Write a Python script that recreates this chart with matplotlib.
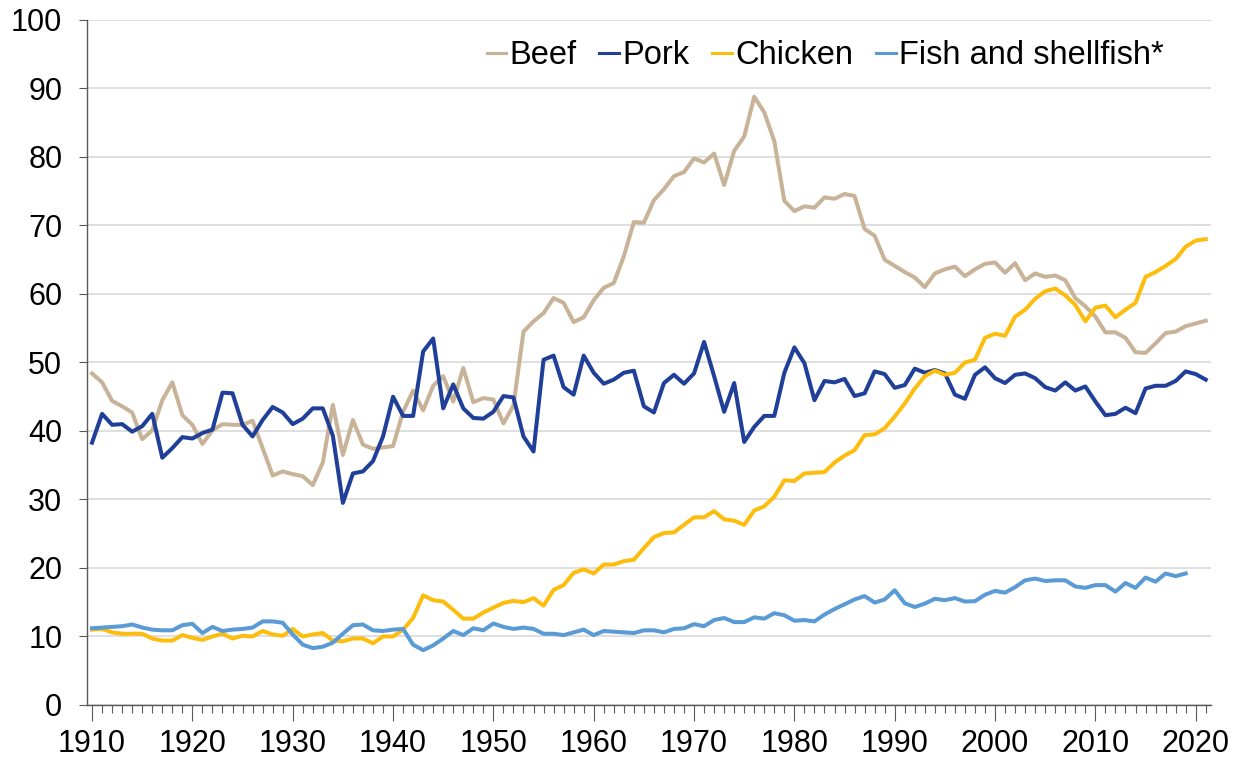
import numpy as np
import matplotlib
matplotlib.use("Agg")
import matplotlib.pyplot as plt
from matplotlib.ticker import MultipleLocator

plt.rcParams['font.family'] = ['Liberation Sans', 'DejaVu Sans']

# Per capita availability, pounds, 1910-2021
years = np.arange(1910, 2022)

beef = [48.4, 47.1, 44.4, 43.6, 42.7, 38.8, 40.1, 44.5, 47.1, 42.3,
        40.9, 38.1, 40.1, 41.0, 40.9, 40.9, 41.5, 37.5, 33.5, 34.1,
        33.7, 33.4, 32.1, 35.4, 43.8, 36.5, 41.6, 38.0, 37.4, 37.6,
        37.8, 42.8, 45.9, 43.0, 46.6, 48.0, 44.3, 49.2, 44.2, 44.8,
        44.6, 41.1, 43.7, 54.5, 56.0, 57.2, 59.4, 58.7, 55.9, 56.6,
        59.1, 60.9, 61.6, 65.5, 70.5, 70.4, 73.7, 75.3, 77.2, 77.8,
        79.8, 79.2, 80.5, 75.9, 80.9, 83.0, 88.8, 86.5, 82.3, 73.6,
        72.1, 72.8, 72.6, 74.1, 73.9, 74.6, 74.3, 69.5, 68.5, 65.0,
        64.1, 63.2, 62.4, 61.0, 63.0, 63.6, 64.0, 62.6, 63.6, 64.4,
        64.6, 63.1, 64.5, 62.0, 63.0, 62.5, 62.7, 62.0, 59.4, 58.2,
        56.7, 54.4, 54.4, 53.6, 51.5, 51.4, 52.8, 54.3, 54.5, 55.3,
        55.7, 56.1]

pork = [38.3, 42.5, 40.9, 41.0, 39.9, 40.7, 42.5, 36.1, 37.5, 39.1,
        38.9, 39.7, 40.2, 45.6, 45.5, 40.9, 39.2, 41.6, 43.5, 42.7,
        41.0, 41.8, 43.3, 43.3, 39.3, 29.5, 33.8, 34.1, 35.6, 39.2,
        45.0, 42.2, 42.2, 51.6, 53.5, 43.3, 46.8, 43.3, 41.9, 41.8,
        42.8, 45.1, 44.9, 39.2, 37.0, 50.4, 51.0, 46.4, 45.3, 51.0,
        48.5, 46.9, 47.5, 48.5, 48.8, 43.6, 42.7, 47.0, 48.2, 46.9,
        48.4, 53.0, 48.0, 42.8, 47.0, 38.4, 40.6, 42.2, 42.2, 48.5,
        52.2, 49.9, 44.5, 47.3, 47.1, 47.6, 45.1, 45.5, 48.7, 48.3,
        46.3, 46.7, 49.1, 48.5, 48.9, 48.4, 45.3, 44.7, 48.2, 49.3,
        47.7, 47.0, 48.2, 48.4, 47.7, 46.4, 45.9, 47.1, 45.9, 46.5,
        44.3, 42.3, 42.5, 43.4, 42.6, 46.2, 46.6, 46.6, 47.3, 48.7,
        48.3, 47.5]

chicken = [11.0, 11.1, 10.6, 10.4, 10.4, 10.4, 9.7, 9.4, 9.4, 10.2,
           9.8, 9.5, 10.0, 10.4, 9.7, 10.1, 10.0, 10.8, 10.3, 10.1,
           11.1, 10.0, 10.3, 10.5, 9.4, 9.3, 9.7, 9.7, 9.0, 10.0,
           10.0, 11.0, 12.7, 16.0, 15.3, 15.1, 13.9, 12.6, 12.6, 13.5,
           14.2, 14.9, 15.2, 15.0, 15.6, 14.5, 16.8, 17.5, 19.3, 19.8,
           19.2, 20.5, 20.5, 21.0, 21.2, 22.9, 24.5, 25.1, 25.2, 26.3,
           27.4, 27.4, 28.3, 27.1, 26.9, 26.3, 28.4, 29.0, 30.4, 32.8,
           32.7, 33.8, 33.9, 34.0, 35.4, 36.4, 37.2, 39.4, 39.5, 40.4,
           42.1, 44.0, 46.2, 48.0, 48.8, 48.2, 48.5, 50.0, 50.4, 53.6,
           54.2, 53.9, 56.7, 57.7, 59.3, 60.4, 60.8, 59.8, 58.4, 56.0,
           58.0, 58.3, 56.6, 57.7, 58.7, 62.5, 63.2, 64.1, 65.1, 66.9,
           67.8, 68.0]

# fish series stops at 2019
fish_years = np.arange(1910, 2020)
fish = [11.2, 11.3, 11.4, 11.5, 11.75, 11.3, 11.0, 10.9, 10.9, 11.65,
        11.85, 10.5, 11.4, 10.8, 11.0, 11.1, 11.3, 12.2, 12.2, 12.0,
        10.3, 8.8, 8.3, 8.5, 9.1, 10.4, 11.65, 11.75, 10.9, 10.8,
        11.0, 11.1, 8.8, 8.0, 8.7, 9.7, 10.8, 10.2, 11.2, 10.9,
        11.9, 11.4, 11.1, 11.3, 11.1, 10.4, 10.4, 10.2, 10.6, 11.0,
        10.2, 10.8, 10.7, 10.6, 10.5, 10.9, 10.9, 10.6, 11.1, 11.2,
        11.8, 11.5, 12.4, 12.7, 12.1, 12.1, 12.8, 12.6, 13.4, 13.1,
        12.3, 12.4, 12.2, 13.2, 14.0, 14.7, 15.4, 15.9, 14.95, 15.4,
        16.75, 14.85, 14.3, 14.8, 15.5, 15.3, 15.6, 15.1, 15.15, 16.1,
        16.65, 16.4, 17.2, 18.2, 18.45, 18.1, 18.2, 18.2, 17.3, 17.1,
        17.5, 17.5, 16.55, 17.8, 17.1, 18.6, 18.0, 19.2, 18.8, 19.2]

labels = ['Beef', 'Pork', 'Chicken', 'Fish and shellfish*']
colors = ['#c8b398', '#1f3f98', '#fdbd0f', '#5b9bd5']

fig = plt.figure(figsize=(12.38, 7.6), dpi=100)
ax = fig.add_axes([0.0703, 0.0724, 0.9077, 0.9013])

ax.plot(years, beef, color=colors[0], lw=2.9, label=labels[0])
ax.plot(years, pork, color=colors[1], lw=2.9, label=labels[1])
ax.plot(years, chicken, color=colors[2], lw=2.9, label=labels[2])
ax.plot(fish_years, fish, color=colors[3], lw=2.9, label=labels[3])

ax.set_xlim(1909.5, 2021.5)
ax.set_ylim(0, 100)
ax.yaxis.set_major_locator(MultipleLocator(10))
ax.xaxis.set_major_locator(MultipleLocator(10))
ax.xaxis.set_minor_locator(MultipleLocator(1))
ax.grid(axis='y', color='#d9d9d9', lw=1.2)
ax.set_axisbelow(True)

for s in ['top', 'right']:
    ax.spines[s].set_visible(False)
for s in ['left', 'bottom']:
    ax.spines[s].set_color('#595959')
    ax.spines[s].set_linewidth(1.0)

ax.tick_params(axis='y', which='major', length=5.8, color='#595959', labelsize=22, pad=12)
ax.tick_params(axis='x', which='major', length=11.5, color='#595959', labelsize=22, pad=6)
ax.tick_params(axis='x', which='minor', length=5.8, width=0.8, color='#595959')

leg = ax.legend(ncol=4, loc='center right', bbox_to_anchor=(0.958, 0.948), frameon=False,
                fontsize=23.5, handlelength=0.6, handletextpad=0.1, columnspacing=0.7,
                borderaxespad=0, borderpad=0)
for h in leg.get_lines():
    h.set_linewidth(2.2)

fig.savefig('out.png', dpi=100)
